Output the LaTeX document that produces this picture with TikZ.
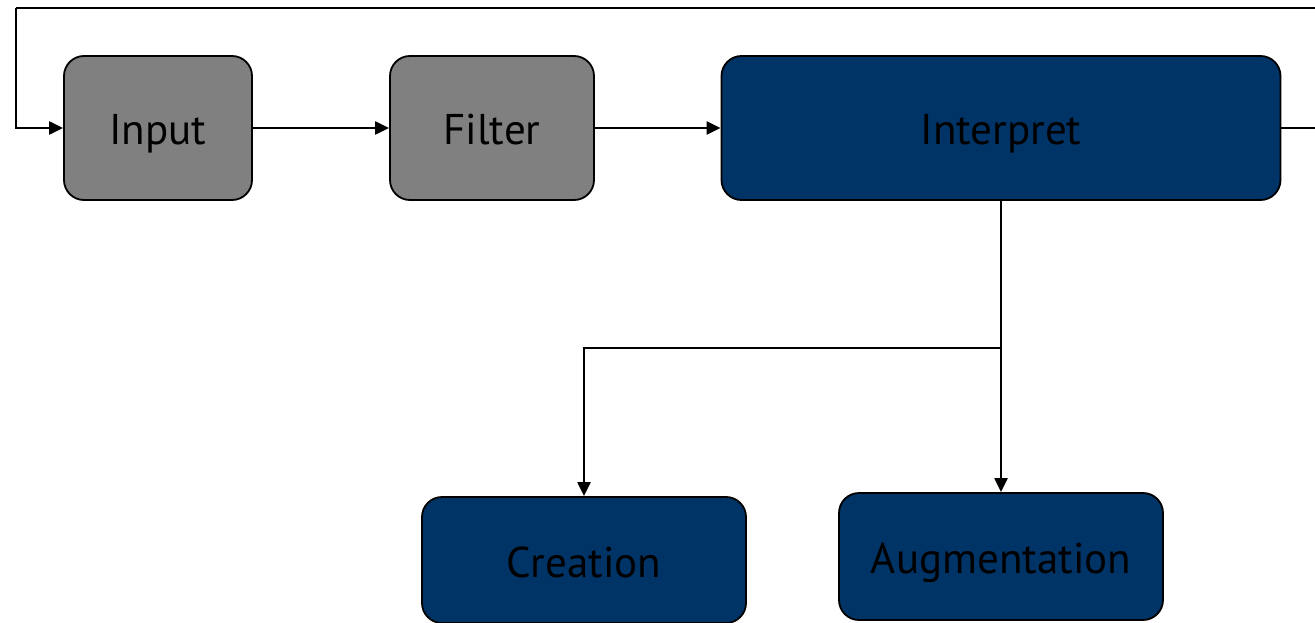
\documentclass[tikz,border=0pt]{standalone}
\usepackage{fontspec}
\setmainfont{PT Sans}
\usetikzlibrary{arrows.meta}
\definecolor{boxgray}{RGB}{128,128,128}
\definecolor{boxblue}{RGB}{0,51,102}
\begin{document}
\begin{tikzpicture}[x=1pt,y=-1pt,
  box/.style={draw=black,line width=1.8pt,rounded corners=20pt,inner sep=0pt,font=\fontsize{43}{48}\selectfont,text=black,text height=34pt,text depth=0pt},
  graybox/.style={box,fill=boxgray},
  bluebox/.style={box,fill=boxblue},
  conn/.style={line width=2.2pt,-{Triangle[width=13pt,length=14pt]}},
  plain/.style={line width=2.2pt}]
\useasboundingbox (0,0) rectangle (1315,623);
\node[graybox,minimum width=188pt,minimum height=144pt] (input) at (158,128) {Input};
\node[graybox,minimum width=204pt,minimum height=144pt] (filter) at (492,128) {Filter};
\node[bluebox,minimum width=559pt,minimum height=144pt] (interp) at (1001,128) {Interpret};
\node[bluebox,minimum width=324pt,minimum height=126pt] (creation) at (584,560) {Creation};
\node[bluebox,minimum width=324pt,minimum height=127pt] (augment) at (1001,556.5) {Augmentation};
\coordinate (r) at (1316,128);
\coordinate (rt) at (1316,8);
\coordinate (lt) at (16,8);
\coordinate (lb) at (16,128);
\coordinate (split) at (1001,348);
\coordinate (cl) at (584,348);
\draw[conn] (input) -- (filter);
\draw[conn] (filter) -- (interp);
\draw[plain] (interp.east) -- (r);
\draw[plain] (rt) -- (lt);
\draw[conn] (lt) -- (lb) -- (input.west);
\draw[plain] (interp.south) -- (split);
\draw[conn] (split) -- (augment.north);
\draw[conn] (split) -- (cl) -- (creation.north);
\end{tikzpicture}
\end{document}
